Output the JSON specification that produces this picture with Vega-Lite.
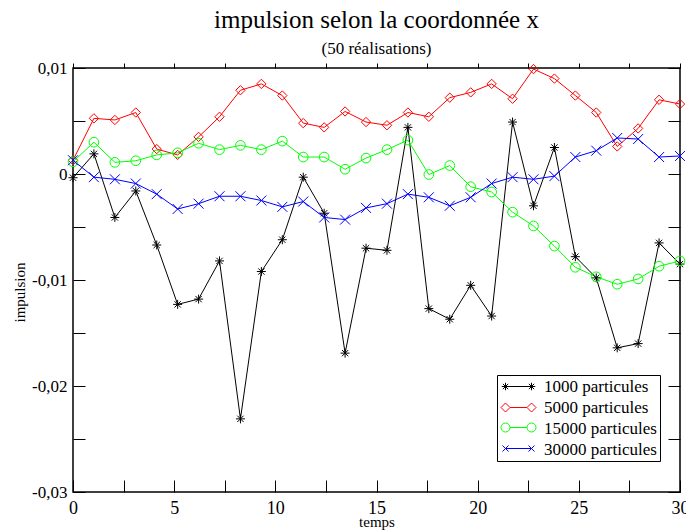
{
"$schema": "https://vega.github.io/schema/vega-lite/v6.json",
"width": 607, "height": 424,
"autosize": {"type": "none"},
"padding": {"left": 73, "top": 68, "right": 6, "bottom": 38},
"background": "white",
"title": {"text": "impulsion selon la coordonnée x", "subtitle": "(50 réalisations)", "font": "Liberation Serif", "fontSize": 25, "fontWeight": "normal", "subtitleFont": "Liberation Serif", "subtitleFontSize": 17, "color": "black", "subtitleColor": "black", "anchor": "middle", "offset": 2, "subtitlePadding": 8},
"config": {"view": {"stroke": "black", "strokeWidth": 1.5}, "font": "Liberation Serif", "axis": {"ticks": true, "tickColor": "black", "tickOpacity": 1}, "legend": {"labelFont": "Liberation Serif", "labelFontSize": 17, "labelColor": "black"}},
"datasets": {"d": [
{"t":0,"v":-0.00035,"s":"1000 particules"},{"t":1.034,"v":0.0019,"s":"1000 particules"},{"t":2.069,"v":-0.0041,"s":"1000 particules"},{"t":3.103,"v":-0.0016,"s":"1000 particules"},{"t":4.138,"v":-0.0067,"s":"1000 particules"},{"t":5.172,"v":-0.0123,"s":"1000 particules"},{"t":6.207,"v":-0.0118,"s":"1000 particules"},{"t":7.241,"v":-0.0082,"s":"1000 particules"},{"t":8.276,"v":-0.0231,"s":"1000 particules"},{"t":9.31,"v":-0.0092,"s":"1000 particules"},{"t":10.345,"v":-0.0062,"s":"1000 particules"},{"t":11.379,"v":-0.0003,"s":"1000 particules"},{"t":12.414,"v":-0.0037,"s":"1000 particules"},{"t":13.448,"v":-0.0169,"s":"1000 particules"},{"t":14.483,"v":-0.0070,"s":"1000 particules"},{"t":15.517,"v":-0.0072,"s":"1000 particules"},{"t":16.552,"v":0.0044,"s":"1000 particules"},{"t":17.586,"v":-0.0127,"s":"1000 particules"},{"t":18.621,"v":-0.0137,"s":"1000 particules"},{"t":19.655,"v":-0.0105,"s":"1000 particules"},{"t":20.69,"v":-0.0134,"s":"1000 particules"},{"t":21.724,"v":0.0049,"s":"1000 particules"},{"t":22.759,"v":-0.0030,"s":"1000 particules"},{"t":23.793,"v":0.0025,"s":"1000 particules"},{"t":24.828,"v":-0.0078,"s":"1000 particules"},{"t":25.862,"v":-0.0098,"s":"1000 particules"},{"t":26.897,"v":-0.0164,"s":"1000 particules"},{"t":27.931,"v":-0.0160,"s":"1000 particules"},{"t":28.966,"v":-0.0065,"s":"1000 particules"},{"t":30,"v":-0.0085,"s":"1000 particules"},
{"t":0,"v":0.0013,"s":"5000 particules"},{"t":1.034,"v":0.00525,"s":"5000 particules"},{"t":2.069,"v":0.0051,"s":"5000 particules"},{"t":3.103,"v":0.0058,"s":"5000 particules"},{"t":4.138,"v":0.00235,"s":"5000 particules"},{"t":5.172,"v":0.0018,"s":"5000 particules"},{"t":6.207,"v":0.0035,"s":"5000 particules"},{"t":7.241,"v":0.0054,"s":"5000 particules"},{"t":8.276,"v":0.0079,"s":"5000 particules"},{"t":9.31,"v":0.0085,"s":"5000 particules"},{"t":10.345,"v":0.0074,"s":"5000 particules"},{"t":11.379,"v":0.0048,"s":"5000 particules"},{"t":12.414,"v":0.0044,"s":"5000 particules"},{"t":13.448,"v":0.0059,"s":"5000 particules"},{"t":14.483,"v":0.0049,"s":"5000 particules"},{"t":15.517,"v":0.0046,"s":"5000 particules"},{"t":16.552,"v":0.0058,"s":"5000 particules"},{"t":17.586,"v":0.0054,"s":"5000 particules"},{"t":18.621,"v":0.0072,"s":"5000 particules"},{"t":19.655,"v":0.0077,"s":"5000 particules"},{"t":20.69,"v":0.0085,"s":"5000 particules"},{"t":21.724,"v":0.0071,"s":"5000 particules"},{"t":22.759,"v":0.0099,"s":"5000 particules"},{"t":23.793,"v":0.0090,"s":"5000 particules"},{"t":24.828,"v":0.0074,"s":"5000 particules"},{"t":25.862,"v":0.0058,"s":"5000 particules"},{"t":26.897,"v":0.0026,"s":"5000 particules"},{"t":27.931,"v":0.0043,"s":"5000 particules"},{"t":28.966,"v":0.0070,"s":"5000 particules"},{"t":30,"v":0.0066,"s":"5000 particules"},
{"t":0,"v":0.00115,"s":"15000 particules"},{"t":1.034,"v":0.0030,"s":"15000 particules"},{"t":2.069,"v":0.0011,"s":"15000 particules"},{"t":3.103,"v":0.00125,"s":"15000 particules"},{"t":4.138,"v":0.0018,"s":"15000 particules"},{"t":5.172,"v":0.0020,"s":"15000 particules"},{"t":6.207,"v":0.0029,"s":"15000 particules"},{"t":7.241,"v":0.0023,"s":"15000 particules"},{"t":8.276,"v":0.0027,"s":"15000 particules"},{"t":9.31,"v":0.0023,"s":"15000 particules"},{"t":10.345,"v":0.0031,"s":"15000 particules"},{"t":11.379,"v":0.0016,"s":"15000 particules"},{"t":12.414,"v":0.0016,"s":"15000 particules"},{"t":13.448,"v":0.00045,"s":"15000 particules"},{"t":14.483,"v":0.0015,"s":"15000 particules"},{"t":15.517,"v":0.0023,"s":"15000 particules"},{"t":16.552,"v":0.0032,"s":"15000 particules"},{"t":17.586,"v":-0.00005,"s":"15000 particules"},{"t":18.621,"v":0.0008,"s":"15000 particules"},{"t":19.655,"v":-0.0012,"s":"15000 particules"},{"t":20.69,"v":-0.0017,"s":"15000 particules"},{"t":21.724,"v":-0.0036,"s":"15000 particules"},{"t":22.759,"v":-0.0049,"s":"15000 particules"},{"t":23.793,"v":-0.0068,"s":"15000 particules"},{"t":24.828,"v":-0.0088,"s":"15000 particules"},{"t":25.862,"v":-0.0097,"s":"15000 particules"},{"t":26.897,"v":-0.0104,"s":"15000 particules"},{"t":27.931,"v":-0.0099,"s":"15000 particules"},{"t":28.966,"v":-0.0087,"s":"15000 particules"},{"t":30,"v":-0.0082,"s":"15000 particules"},
{"t":0,"v":0.0013,"s":"30000 particules"},{"t":1.034,"v":-0.0003,"s":"30000 particules"},{"t":2.069,"v":-0.0005,"s":"30000 particules"},{"t":3.103,"v":-0.0009,"s":"30000 particules"},{"t":4.138,"v":-0.0019,"s":"30000 particules"},{"t":5.172,"v":-0.0033,"s":"30000 particules"},{"t":6.207,"v":-0.0028,"s":"30000 particules"},{"t":7.241,"v":-0.0021,"s":"30000 particules"},{"t":8.276,"v":-0.0021,"s":"30000 particules"},{"t":9.31,"v":-0.0025,"s":"30000 particules"},{"t":10.345,"v":-0.0031,"s":"30000 particules"},{"t":11.379,"v":-0.0026,"s":"30000 particules"},{"t":12.414,"v":-0.0041,"s":"30000 particules"},{"t":13.448,"v":-0.0043,"s":"30000 particules"},{"t":14.483,"v":-0.0032,"s":"30000 particules"},{"t":15.517,"v":-0.0028,"s":"30000 particules"},{"t":16.552,"v":-0.0019,"s":"30000 particules"},{"t":17.586,"v":-0.0022,"s":"30000 particules"},{"t":18.621,"v":-0.0030,"s":"30000 particules"},{"t":19.655,"v":-0.0022,"s":"30000 particules"},{"t":20.69,"v":-0.0009,"s":"30000 particules"},{"t":21.724,"v":-0.0003,"s":"30000 particules"},{"t":22.759,"v":-0.0005,"s":"30000 particules"},{"t":23.793,"v":-0.0002,"s":"30000 particules"},{"t":24.828,"v":0.0016,"s":"30000 particules"},{"t":25.862,"v":0.0022,"s":"30000 particules"},{"t":26.897,"v":0.0034,"s":"30000 particules"},{"t":27.931,"v":0.0033,"s":"30000 particules"},{"t":28.966,"v":0.0016,"s":"30000 particules"},{"t":30,"v":0.0017,"s":"30000 particules"}
]},
"data": {"name": "d"},
"layer": [
{"mark": {"type": "line", "strokeWidth": 1},
 "encoding": {
  "x": {"field": "t", "type": "quantitative", "scale": {"domain": [0, 30], "nice": false},
   "axis": {"orient": "bottom", "offset": -12, "values": [0,2.5,5,7.5,10,12.5,15,17.5,20,22.5,25,27.5,30], "tickSize": 12, "labelExpr": "datum.value % 5 === 0 ? datum.label : ''", "domain": false, "grid": false, "labelFont": "Liberation Serif", "labelFontSize": 18, "labelColor": "black", "labelPadding": 7, "labelFlush": false, "labelOverlap": false, "title": "temps", "titleFont": "Liberation Serif", "titleFontSize": 15, "titleFontWeight": "normal", "titleColor": "black", "titleBaseline": "alphabetic", "titleY": 46}},
  "y": {"field": "v", "type": "quantitative", "scale": {"domain": [-0.03, 0.01], "nice": false, "zero": false},
   "axis": {"orient": "left", "offset": -12, "values": [-0.03,-0.025,-0.02,-0.015,-0.01,-0.005,0,0.005,0.01], "tickSize": 12, "labelExpr": "abs(round(datum.value*1000)) % 10 !== 0 ? '' : (datum.value == 0 ? '0' : (datum.value < 0 ? '-' : '') + replace(format(abs(datum.value), '.2f'), '.', ','))", "domain": false, "grid": false, "labelFont": "Liberation Serif", "labelFontSize": 17, "labelColor": "black", "labelPadding": 6, "labelFlush": false, "labelOverlap": false, "title": "impulsion", "titleFont": "Liberation Serif", "titleFontSize": 15, "titleFontWeight": "normal", "titleColor": "black", "titleBaseline": "alphabetic", "titleX": -61, "titleY": 224}},
  "color": {"field": "s", "type": "nominal", "scale": {"domain": ["1000 particules","5000 particules","15000 particules","30000 particules"], "range": ["#000000","#ff0000","#00ff00","#0000ff"]}, "legend": null}
 }},
{"mark": {"type": "point", "filled": false, "strokeWidth": 1, "opacity": 1},
 "encoding": {
  "x": {"field": "t", "type": "quantitative",
   "axis": {"orient": "top", "labels": false, "title": null, "values": [0,2.5,5,7.5,10,12.5,15,17.5,20,22.5,25,27.5,30], "domain": false}},
  "y": {"field": "v", "type": "quantitative",
   "axis": {"orient": "right", "offset": -12, "values": [-0.03,-0.025,-0.02,-0.015,-0.01,-0.005,0,0.005,0.01], "tickSize": 12, "tickColor": "black", "labels": false, "domain": false, "grid": false, "title": null}},
  "color": {"field": "s", "type": "nominal", "scale": {"domain": ["1000 particules","5000 particules","15000 particules","30000 particules"], "range": ["#000000","#ff0000","#00ff00","#0000ff"]}, "legend": null},
  "size": {"field": "s", "type": "nominal", "scale": {"domain": ["1000 particules","5000 particules","15000 particules","30000 particules"], "range": [81, 100, 121, 64]}, "legend": null},
  "shape": {"field": "s", "type": "nominal", "scale": {"domain": ["1000 particules","5000 particules","15000 particules","30000 particules"], "range": ["M-1,0L1,0M0,-1L0,1M-0.7,-0.7L0.7,0.7M-0.7,0.7L0.7,-0.7", "diamond", "circle", "M-1,-1L1,1M-1,1L1,-1"]}, "legend": null}
 }},
{"transform": [{"filter": "datum.t < 0"}],
 "mark": {"type": "point", "filled": false, "strokeWidth": 1, "opacity": 1},
 "encoding": {
  "x": {"field": "t", "type": "quantitative", "axis": null},
  "y": {"field": "v", "type": "quantitative", "axis": null},
  "shape": {"field": "s", "type": "nominal", "scale": {"domain": ["1000 particules","5000 particules","15000 particules","30000 particules"], "range": ["circle","circle","circle","circle"]},
   "legend": {"orient": "none", "legendX": 424, "legendY": 307, "title": null, "strokeColor": "black", "fillColor": "white", "padding": 3, "labelFont": "Liberation Serif", "labelFontSize": 17, "labelColor": "black", "symbolSize": 100, "symbolOpacity": 0, "labelOffset": 27, "rowPadding": 3, "labelExpr": "datum.label + '     '"}}
 }},
{"transform": [{"filter": "datum.t < 0"}],
 "mark": {"type": "point", "filled": false, "strokeWidth": 1, "opacity": 1, "color": "#000000"},
 "encoding": {
  "x": {"field": "t", "type": "quantitative", "axis": null},
  "y": {"field": "v", "type": "quantitative", "axis": null},
  "shape": {"field": "s", "type": "nominal", "scale": {"domain": ["1000 particules"], "range": ["M0,0L5.2,0M-0.75,0L0.75,0M0,-0.75L0,0.75M-0.53,-0.53L0.53,0.53M-0.53,0.53L0.53,-0.53M4.45,0L5.95,0M5.2,-0.75L5.2,0.75M4.67,-0.53L5.73,0.53M4.67,0.53L5.73,-0.53"]},
   "legend": {"orient": "none", "legendX": 424, "legendY": 310, "title": null, "padding": 0, "symbolSize": 100, "symbolStrokeWidth": 1, "labelFontSize": 17, "labelExpr": "' '"}}
 }},
{"transform": [{"filter": "datum.t < 0"}],
 "mark": {"type": "point", "filled": false, "strokeWidth": 1, "opacity": 1, "color": "#ff0000"},
 "encoding": {
  "x": {"field": "t", "type": "quantitative", "axis": null},
  "y": {"field": "v", "type": "quantitative", "axis": null},
  "shape": {"field": "s", "type": "nominal", "scale": {"domain": ["5000 particules"], "range": ["M0.9,0L4.3,0M-0.9,0L0,-0.9L0.9,0L0,0.9ZM4.3,0L5.2,-0.9L6.1,0L5.2,0.9Z"]},
   "legend": {"orient": "none", "legendX": 424, "legendY": 331, "title": null, "padding": 0, "symbolSize": 100, "symbolStrokeWidth": 1, "labelFontSize": 17, "labelExpr": "' '"}}
 }},
{"transform": [{"filter": "datum.t < 0"}],
 "mark": {"type": "point", "filled": false, "strokeWidth": 1, "opacity": 1, "color": "#00ff00"},
 "encoding": {
  "x": {"field": "t", "type": "quantitative", "axis": null},
  "y": {"field": "v", "type": "quantitative", "axis": null},
  "shape": {"field": "s", "type": "nominal", "scale": {"domain": ["15000 particules"], "range": ["M0.9,0L4.3,0M0.9,0A0.9,0.9 0 1,1 -0.9,0A0.9,0.9 0 1,1 0.9,0M6.1,0A0.9,0.9 0 1,1 4.3,0A0.9,0.9 0 1,1 6.1,0"]},
   "legend": {"orient": "none", "legendX": 424, "legendY": 351, "title": null, "padding": 0, "symbolSize": 100, "symbolStrokeWidth": 1, "labelFontSize": 17, "labelExpr": "' '"}}
 }},
{"transform": [{"filter": "datum.t < 0"}],
 "mark": {"type": "point", "filled": false, "strokeWidth": 1, "opacity": 1, "color": "#0000ff"},
 "encoding": {
  "x": {"field": "t", "type": "quantitative", "axis": null},
  "y": {"field": "v", "type": "quantitative", "axis": null},
  "shape": {"field": "s", "type": "nominal", "scale": {"domain": ["30000 particules"], "range": ["M0,0L5.2,0M-0.6,-0.6L0.6,0.6M-0.6,0.6L0.6,-0.6M4.6,-0.6L5.8,0.6M4.6,0.6L5.8,-0.6"]},
   "legend": {"orient": "none", "legendX": 424, "legendY": 372, "title": null, "padding": 0, "symbolSize": 100, "symbolStrokeWidth": 1, "labelFontSize": 17, "labelExpr": "' '"}}
 }}
],
"resolve": {"axis": {"x": "independent", "y": "independent"}, "scale": {"color": "independent", "shape": "independent", "size": "independent"}}
}
